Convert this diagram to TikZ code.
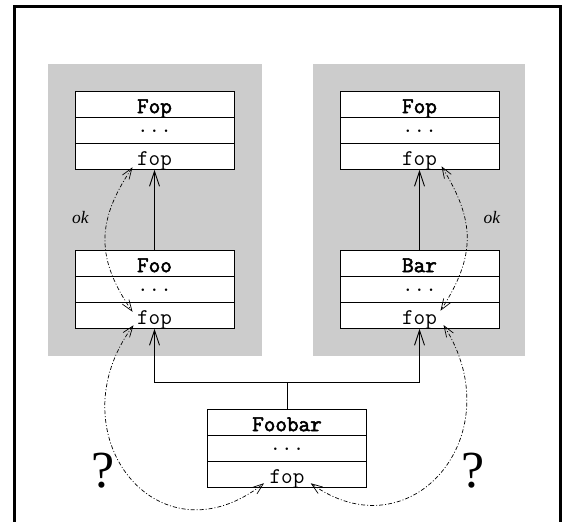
\documentclass[tikz,border=0pt]{standalone}
\usepackage{fontspec}
\newfontfamily\boldmono{Latin Modern Mono}[FakeBold=2.5]
\newfontfamily\labelserif{Liberation Serif}
\usetikzlibrary{arrows.meta,calc}

% one class box: name row, "..." row and the operation row
\newcommand\umlclass[4]{% #1 id, #2 centre x, #3 top y, #4 class name
  \node[namerow, anchor=north] (#1-name) at (#2,#3) {#4};
  \node[dotrow,  anchor=north] (#1-dots) at (#1-name.south) {...};
  \node[row,     anchor=north] (#1-op)   at (#1-dots.south) {fop};
}

\begin{document}
\begin{tikzpicture}[x=1pt,y=-1pt,
  panel/.style={fill=black!20, draw=none},
  row/.style={draw, line width=0.9pt, fill=white, minimum width=159pt,
    minimum height=26.3pt, inner sep=0pt, outer sep=0pt,
    font=\fontsize{22.5}{26}\selectfont\ttfamily,
    text height=18pt, text depth=0pt},
  namerow/.style={row, font=\fontsize{22.5}{26}\selectfont\boldmono},
  dotrow/.style={row, text height=5pt},
  inherit/.style={draw, line width=0.9pt, -{Straight Barb[length=15pt,width=10pt]}},
  uses/.style={line width=0.7pt, dash pattern=on 4pt off 2pt on 1pt off 2pt,
    {Straight Barb[length=11pt,width=8pt]}-{Straight Barb[length=11pt,width=8pt]}},
  oklabel/.style={font=\fontsize{17.5}{21}\selectfont\labelserif\itshape, inner sep=0pt},
  qlabel/.style={font=\fontsize{52}{62}\selectfont\labelserif, inner sep=0pt},
]
\useasboundingbox (0,0) rectangle (563,522);

% outer frame, open at the bottom
\draw[line width=3pt] (14.5,540) -- (14.5,6) -- (560.5,6) -- (560.5,540);

% grey panels
\fill[panel] (48,64) rectangle (262,356);
\fill[panel] (313,64) rectangle (525,356);

% classes
\umlclass{fopL}{154.5}{91}{Fop}
\umlclass{foo}{154.5}{250}{Foo}
\umlclass{fopR}{419.5}{91}{Fop}
\umlclass{bar}{419.5}{250}{Bar}
\umlclass{foobar}{287}{409}{Foobar}

% inheritance
\draw[inherit] (foo-name.north) -- (fopL-op.south);
\draw[inherit] (bar-name.north) -- (fopR-op.south);
\coordinate (join) at ($(foobar-name.north)+(0,-27)$);
\draw[line width=0.9pt] (foobar-name.north) -- (join);
\draw[inherit] (join) -| (foo-op.south);
\draw[inherit] (join) -| (bar-op.south);

% ends of the dash-dotted relations, beside each "fop"
\coordinate (okA1) at ($(fopL-op.center)+(-22,10.5)$);
\coordinate (okA2) at ($(foo-op.center)+(-22,-4)$);
\coordinate (okB1) at ($(fopR-op.center)+(22,9.5)$);
\coordinate (okB2) at ($(bar-op.center)+(21,-5)$);
\coordinate (qA1)  at ($(foo-op.center)+(-21,9.5)$);
\coordinate (qA2)  at ($(foobar-op.center)+(-23,8.5)$);
\coordinate (qB1)  at ($(foobar-op.center)+(23.7,8.5)$);
\coordinate (qB2)  at ($(bar-op.center)+(24,9.25)$);

\draw[uses] (okA1) .. controls +(-36.5,54) and +(-36.5,-52.75) .. (okA2);
\draw[uses] (okB1) .. controls +(34,55) and +(35.5,-55) .. (okB2);
\draw[uses] (qA1) .. controls +(-80,108) and +(-106.6,83.5) .. (qA2);
\draw[uses] (qB1) .. controls +(100,72) and +(70,110) .. (qB2);

% labels
\node[oklabel] (okA) at (80.5,217.5) {ok};
\node[oklabel] (okB) at (492,217.5) {ok};
\node[qlabel] (qA) at (103.3,471) {?};
\node[qlabel] (qB) at (473,471) {?};
\end{tikzpicture}
\end{document}
